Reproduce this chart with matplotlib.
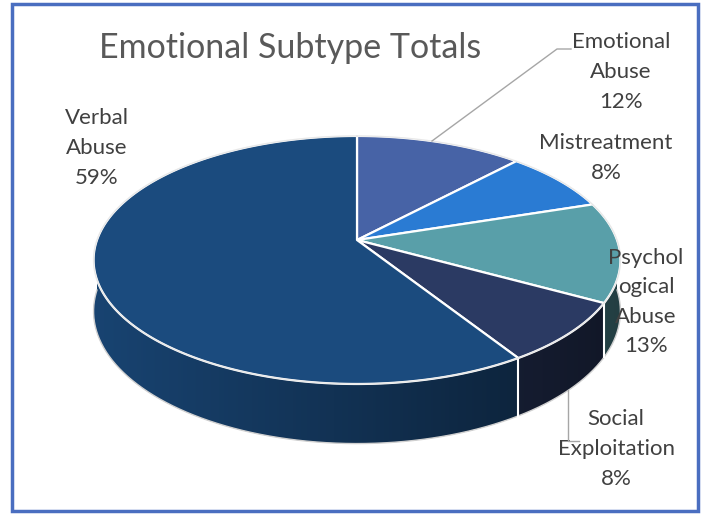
import numpy as np
import matplotlib
matplotlib.use("Agg")
import matplotlib.pyplot as plt
from matplotlib.patches import Polygon, Rectangle
from matplotlib.colors import to_rgb

title = "Emotional Subtype Totals"
categories = ["Emotional Abuse", "Mistreatment", "Psychological Abuse",
              "Social Exploitation", "Verbal Abuse"]
values = [12, 8, 13, 8, 59]
label_texts = ["Emotional\nAbuse\n12%", "Mistreatment\n8%", "Psychol\nogical\nAbuse\n13%",
               "Social\nExploitation\n8%", "Verbal\nAbuse\n59%"]
colors = ["#4763A6", "#2A7BD3", "#599FA9", "#2B3A63", "#1B4B7E"]

W, H = 704, 514
fig = plt.figure(figsize=(W / 100, H / 100), dpi=100)
ax = fig.add_axes([0, 0, 1, 1])
ax.set_xlim(0, W)
ax.set_ylim(H, 0)
ax.axis("off")

# 3D pie geometry (pixel space)
cx, cy = 357, 240
rx, ry, k, h = 260, 120.8, 0.161, 50


def proj(phi_deg):
    p = np.radians(phi_deg)
    X = np.sin(p)
    D = -np.cos(p)
    s = 1.0 / (1 - k * D)
    return cx + rx * X * s, cy + ry * D * s, s


fracs = np.array(values, dtype=float) / np.sum(values)
bounds = np.concatenate([[0], np.cumsum(fracs) * 360])

xcols = np.arange(W) + 0.5
shade = np.clip(0.9 - 0.5 * (xcols - 93) / (610 - 93), 0.3, 1.0)

# walls (front half: phi in [90, 270]) with horizontal gradient
for i, c in enumerate(colors):
    a0, a1 = max(bounds[i], 90), min(bounds[i + 1], 270)
    if a1 <= a0:
        continue
    base = np.array(to_rgb(c))
    phis = np.linspace(a0, a1, max(int((a1 - a0) * 2), 2) + 1)
    xt, yt, st = proj(phis)
    top = list(zip(xt, yt))
    bot = list(zip(xt[::-1], (yt + h * st)[::-1]))
    poly = Polygon(top + bot, closed=True, facecolor="none", edgecolor="none", zorder=2)
    ax.add_patch(poly)
    img = np.clip(base[None, None, :] * shade[None, :, None], 0, 1)
    im = ax.imshow(img, extent=(0, W, H, 0), origin="upper", aspect="auto",
                   interpolation="bilinear", zorder=2)
    im.set_clip_path(poly)

ax.set_xlim(0, W)
ax.set_ylim(H, 0)

# wall outline (bottom edge) and slice separators on wall
ph = np.linspace(90, 270, 300)
bx, by, bs = proj(ph)
ax.plot(bx, by + h * bs, color="#D0D0D0", lw=1.0, zorder=3)
for i in range(len(values)):
    a = bounds[i + 1]
    if 90 < a < 270:
        x0, y0, s0 = proj(a)
        ax.plot([x0, x0], [y0, y0 + h * s0], color="white", lw=1.5, zorder=3)

# top faces
for i, c in enumerate(colors):
    phis = np.linspace(bounds[i], bounds[i + 1], max(int((bounds[i + 1] - bounds[i]) * 2), 2) + 1)
    xs, ys, _ = proj(phis)
    pts = [(cx, cy)] + list(zip(xs, ys))
    ax.add_patch(Polygon(pts, closed=True, facecolor=c, edgecolor="white",
                         lw=1.6, joinstyle="round", zorder=4))

# outer rim
ph = np.linspace(0, 360, 720)
ox, oy, _ = proj(ph)
ax.plot(ox, oy, color="#E8E8E8", lw=1.0, zorder=5)

font = "Lato"
tcol = "#404040"
ax.text(290, 48, title, ha="center", va="center", fontsize=24.5, color="#595959",
        family=font, zorder=6)

label_pos = [(621, 72), (606, 158), (646, 302), (616, 449), (97, 148)]
for (lx, ly), t in zip(label_pos, label_texts):
    ax.text(lx, ly, t, ha="center", va="center", fontsize=16, color=tcol,
            family=font, linespacing=1.6, zorder=6)

# leader lines
lc = "#A6A6A6"
ax.plot([571, 557, 432], [49, 49, 141], color=lc, lw=1.0, zorder=6)
ax.plot([568, 568, 579], [390, 441, 441], color=lc, lw=1.0, zorder=6)

# chart border
ax.add_patch(Rectangle((12, 4), 686, 507, fill=False, edgecolor="#4A6EC0", lw=2.5, zorder=7))

fig.savefig("out.png", dpi=100)
